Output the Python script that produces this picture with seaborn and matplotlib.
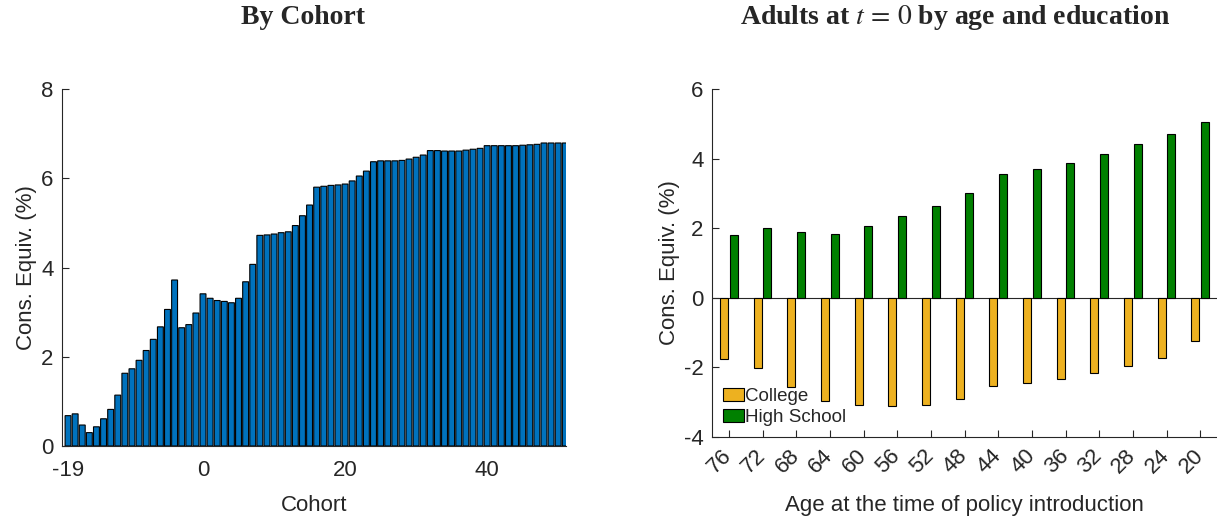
import matplotlib
matplotlib.use("Agg")
import numpy as np
import pandas as pd
import seaborn as sns
import matplotlib.pyplot as plt
import matplotlib.transforms as mtransforms
from matplotlib.patches import Patch

# Left panel: consumption equivalent by cohort
cohorts = list(range(-19, 52))
cohort_ce = [
    0.68, 0.72, 0.47, 0.30, 0.43, 0.61, 0.82, 1.14, 1.63, 1.73,
    1.92, 2.14, 2.39, 2.67, 3.06, 3.72, 2.65, 2.72, 2.98,
    3.41, 3.31, 3.26, 3.24, 3.21, 3.31, 3.68, 4.07, 4.72, 4.73,
    4.75, 4.78, 4.80, 4.94, 5.16, 5.40, 5.80, 5.82, 5.84, 5.85,
    5.87, 5.94, 6.05, 6.16, 6.37, 6.39, 6.39, 6.39, 6.40, 6.43,
    6.47, 6.52, 6.62, 6.62, 6.61, 6.61, 6.61, 6.63, 6.65, 6.67,
    6.73, 6.73, 6.73, 6.73, 6.73, 6.74, 6.75, 6.76, 6.79, 6.79,
    6.79, 6.79,
]
cohort_ticks = [-19, 0, 20, 40]

# Right panel: adults at t = 0 by age and education
ages = [76, 72, 68, 64, 60, 56, 52, 48, 44, 40, 36, 32, 28, 24, 20]
college = [-1.76, -2.03, -2.55, -2.96, -3.07, -3.10, -3.07, -2.90,
           -2.53, -2.46, -2.32, -2.16, -1.97, -1.74, -1.24]
high_school = [1.80, 2.01, 1.89, 1.83, 2.06, 2.34, 2.64, 3.02,
               3.57, 3.69, 3.88, 4.13, 4.43, 4.72, 5.06]
groups = ["College", "High School"]
group_colors = {"College": "#EDB120", "High School": "#008000"}

BLUE = "#0072BD"
AX = "#262626"
FS = 16

sns.set_style("ticks")
plt.rcParams["font.family"] = ["Liberation Sans", "DejaVu Sans"]
plt.rcParams["mathtext.fontset"] = "stix"
plt.rcParams["axes.unicode_minus"] = False

fig = plt.figure(figsize=(12.17, 5.2), dpi=100)
ax1 = fig.add_axes([62 / 1217, 1 - 446 / 520, 504 / 1217, 357 / 520])
ax2 = fig.add_axes([712 / 1217, 1 - 437 / 520, 505 / 1217, 348 / 520])

# ---- left: by cohort
sns.barplot(x=cohorts, y=cohort_ce, native_scale=True, color=BLUE,
            saturation=1, width=0.83, edgecolor="black", linewidth=0.8,
            errorbar=None, ax=ax1)
for p in ax1.patches:
    p.set_snap(False)
ax1.set_xlim(-19.85, 51.1)
ax1.set_ylim(0, 8)
ax1.set_xticks(cohort_ticks)
ax1.set_xticklabels([str(t) for t in cohort_ticks])
ax1.set_yticks([0, 2, 4, 6, 8])
ax1.set_xlabel("Cohort", fontsize=FS, color=AX, labelpad=10)
ax1.set_ylabel("Cons. Equiv. (%)", fontsize=FS, color=AX, labelpad=3)

# ---- right: by age and education
df = pd.DataFrame({
    "age": [str(a) for a in ages] * 2,
    "group": ["College"] * len(ages) + ["High School"] * len(ages),
    "value": college + high_school,
})
order = [str(a) for a in ages]
sns.barplot(data=df, x="age", y="value", hue="group", order=order,
            hue_order=groups, palette=group_colors, saturation=1,
            width=0.58, gap=0.16, edgecolor="black", linewidth=0.8,
            errorbar=None, legend=False, ax=ax2)
ax2.axhline(0, color=AX, lw=0.8, zorder=0.5)
ax2.set_xlim(-0.5, 14.5)
ax2.set_ylim(-4, 6)
ax2.set_yticks([-4, -2, 0, 2, 4, 6])
ax2.set_xticks(range(len(ages)))
ax2.set_xticklabels(order, rotation=45, ha="right", va="center",
                    rotation_mode="anchor")
shift = mtransforms.ScaledTranslation(6 / 100, 0, fig.dpi_scale_trans)
for lbl in ax2.get_xticklabels():
    lbl.set_transform(lbl.get_transform() + shift)
ax2.set_xlabel("Age at the time of policy introduction", fontsize=FS,
               color=AX, labelpad=13)
ax2.set_ylabel("Cons. Equiv. (%)", fontsize=FS, color=AX, labelpad=3)

handles = [Patch(facecolor=group_colors[g], edgecolor="black", linewidth=0.8)
           for g in groups]
ax2.legend(handles, groups, loc="lower left", bbox_to_anchor=(0.0, 0.0),
           frameon=False, fontsize=13.5, handlelength=1.1, handleheight=0.7,
           handletextpad=0.05, labelspacing=0.2, borderaxespad=0.4,
           borderpad=0.2)

for ax in (ax1, ax2):
    sns.despine(ax=ax)
    for s in ("left", "bottom"):
        ax.spines[s].set_color(AX)
        ax.spines[s].set_linewidth(0.8)
    ax.tick_params(direction="in", length=5, width=0.8, color=AX,
                   labelsize=FS, labelcolor=AX, pad=6)
ax1.tick_params(axis="x", pad=10)
ax2.tick_params(axis="x", pad=11)

title_kw = dict(fontsize=20, fontweight="bold", ha="center", va="center",
                family=["Liberation Serif", "DejaVu Serif"])
fig.text(303 / 1217, 1 - 18 / 520, "By Cohort", **title_kw)
fig.text(955 / 1217, 1 - 18 / 520,
         r"Adults at $t\,=\,0$ by age and education", **title_kw)

fig.savefig("out.png", dpi=100)
